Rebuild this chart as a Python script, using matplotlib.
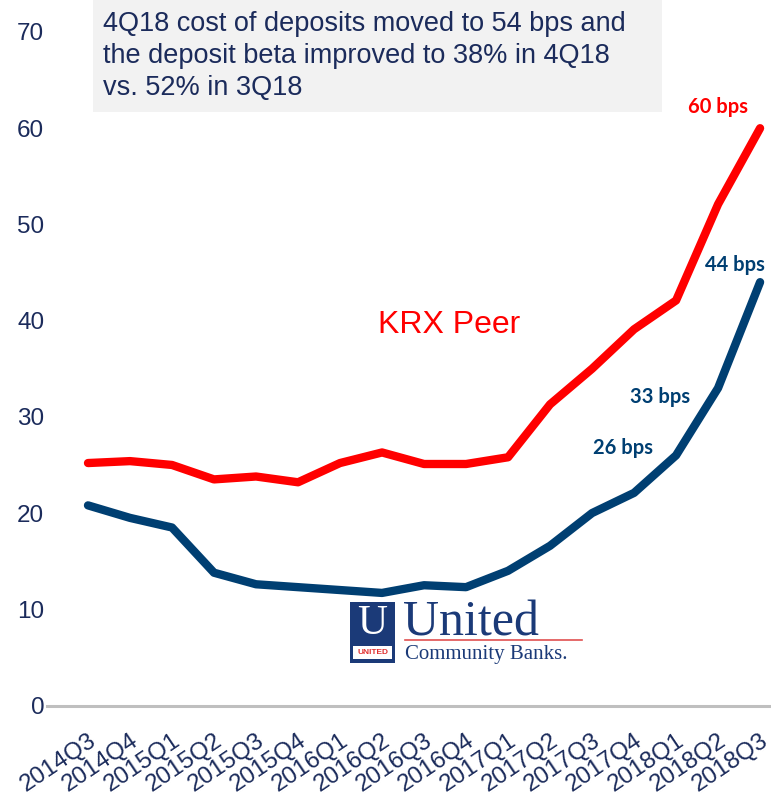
import matplotlib
matplotlib.use("Agg")
import matplotlib.pyplot as plt
import matplotlib.transforms as mtransforms
from matplotlib.patches import Rectangle
from matplotlib.lines import Line2D

quarters = ["2014Q3", "2014Q4", "2015Q1", "2015Q2", "2015Q3", "2015Q4", "2016Q1", "2016Q2",
            "2016Q3", "2016Q4", "2017Q1", "2017Q2", "2017Q3", "2017Q4", "2018Q1", "2018Q2", "2018Q3"]
peer = [25.2, 25.4, 25.0, 23.5, 23.8, 23.2, 25.2, 26.3, 25.1, 25.1, 25.8, 31.3, 35.0, 39.1, 42.1, 52.1, 60.0]
ucbi = [20.8, 19.5, 18.5, 13.8, 12.6, 12.3, 12.0, 11.7, 12.5, 12.3, 14.0, 16.6, 20.0, 22.1, 26.0, 33.0, 44.0]
yticks = [0, 10, 20, 30, 40, 50, 60, 70]

NAVY = "#1b2b5b"
BLUE = "#003f72"
RED = "#ff0000"

W, H = 771, 796
fig = plt.figure(figsize=(W / 100, H / 100), dpi=100)

def fx(px):
    return px / W

def fy(py):
    return 1 - py / H

# axes: y=0 at 705.5px, y=70 at 32px
ax_bottom = fy(705.5)
ax_top = fy(32.0)
ax = fig.add_axes([fx(47), ax_bottom, 1 - fx(47), ax_top - ax_bottom])
ax.set_ylim(0, 70)
x = list(range(len(quarters)))
ax.set_xlim(-0.976, 16.26)

ax.plot(x, peer, color=RED, lw=6, solid_capstyle="round", solid_joinstyle="round", zorder=3)
ax.plot(x, ucbi, color=BLUE, lw=6, solid_capstyle="round", solid_joinstyle="round", zorder=3)

for s in ["top", "right", "left"]:
    ax.spines[s].set_visible(False)
ax.spines["bottom"].set_color("#bfbfbf")
ax.spines["bottom"].set_linewidth(2.2)

ax.set_yticks(yticks)
ax.set_yticklabels([str(v) for v in yticks], fontsize=17.5, color=NAVY, family="Liberation Sans")
ax.tick_params(axis="y", length=0, pad=2)

ax.set_xticks(x)
ax.set_xticklabels(quarters, rotation=34, ha="right", va="center", rotation_mode="anchor",
                   fontsize=17.5, color=NAVY, family="Liberation Sans")
ax.tick_params(axis="x", length=0, pad=24)
offset = mtransforms.ScaledTranslation(6 / 100, 0, fig.dpi_scale_trans)
for lbl in ax.get_xticklabels():
    lbl.set_transform(lbl.get_transform() + offset)
ax.patch.set_alpha(0)

# annotation box
fig.patches.append(Rectangle((fx(93), fy(112)), fx(662) - fx(93), fy(0) - fy(112),
                             transform=fig.transFigure, facecolor="#f2f2f2", edgecolor="none", zorder=0))
fig.text(fx(103), fy(11), "4Q18 cost of deposits moved to 54 bps and\nthe deposit beta improved to 38% in 4Q18\nvs. 52% in 3Q18",
         fontsize=19.5, color=NAVY, family="Liberation Sans", va="top", ha="left", linespacing=1.3)

ax.text(6.905, 39.5, "KRX Peer", color=RED, fontsize=23, family="Liberation Sans", ha="left", va="center")

lab_kw = dict(fontsize=14.5, fontweight="bold", family="Lato", va="center")
ax.text(15.71, 62.2, f"{peer[16]:.0f} bps", color=RED, ha="right", **lab_kw)
ax.text(16.12, 45.8, f"{ucbi[16]:.0f} bps", color=BLUE, ha="right", **lab_kw)
ax.text(14.33, 32.1, f"{ucbi[15]:.0f} bps", color=BLUE, ha="right", **lab_kw)
ax.text(13.45, 26.8, f"{ucbi[14]:.0f} bps", color=BLUE, ha="right", **lab_kw)

# logo
LOGO = "#1b3a78"
fig.patches.append(Rectangle((fx(350), fy(663)), fx(395) - fx(350), fy(602) - fy(663),
                             transform=fig.transFigure, facecolor=LOGO, edgecolor="none", zorder=5))
fig.patches.append(Rectangle((fx(353), fy(659)), fx(392) - fx(353), fy(646) - fy(659),
                             transform=fig.transFigure, facecolor="white", edgecolor="none", zorder=6))
fig.text(fx(372.5), fy(624), "U", fontsize=30, color="white", family="Liberation Serif",
         ha="center", va="center", zorder=7)
fig.text(fx(372.5), fy(653), "UNITED", fontsize=6, color="#e03030", family="Liberation Sans",
         fontweight="bold", ha="center", va="center", zorder=7)
fig.text(fx(403), fy(636), "United", fontsize=36, color=LOGO, family="Liberation Serif",
         ha="left", va="baseline", zorder=7)
fig.lines.append(Line2D([fx(405), fx(582)], [fy(639.5), fy(639.5)], transform=fig.transFigure,
                        color="#e05050", lw=1.2, zorder=7))
fig.text(fx(405), fy(659), "Community Banks.", fontsize=15, color=LOGO, family="Liberation Serif",
         ha="left", va="baseline", zorder=7)

fig.savefig("out.png", dpi=100)
